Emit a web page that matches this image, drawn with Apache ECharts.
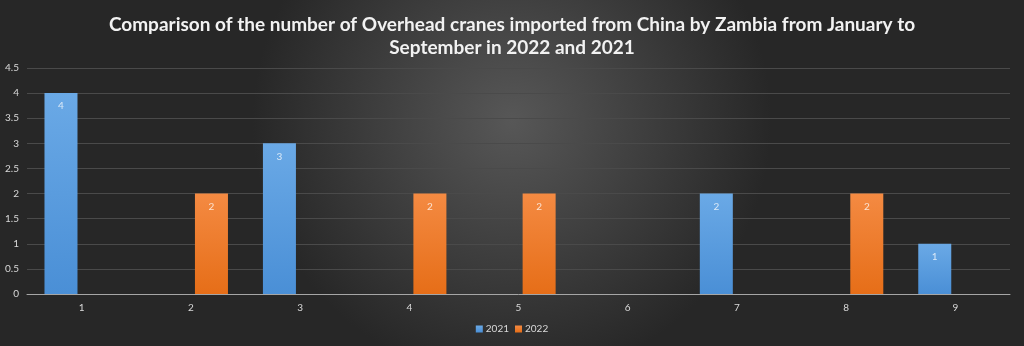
<!DOCTYPE html>
<html><head><meta charset="utf-8">
<script src="https://cdn.jsdelivr.net/npm/echarts@6/dist/echarts.min.js"></script>
<style>html,body{margin:0;padding:0;}#c{width:1024px;height:346px;}</style>
</head><body><div id="c"></div>
<script>
const categories = ['1','2','3','4','5','6','7','8','9'];
const values2021 = [4, null, 3, null, null, null, 2, null, 1];
const values2022 = [null, 2, null, 2, 2, null, null, 2, null];
const yTicks = [0, 0.5, 1, 1.5, 2, 2.5, 3, 3.5, 4, 4.5];

const chart = echarts.init(document.getElementById('c'));
const font = 'Lato, "Open Sans", sans-serif';
chart.setOption({
  backgroundColor: {
    type: 'radial', x: 0.5, y: 0.35, r: 0.75,
    colorStops: [{offset: 0, color: '#575757'}, {offset: 1, color: '#272727'}]
  },
  title: {
    text: 'Comparison of the number of Overhead cranes imported from China by Zambia from January to\nSeptember in 2022 and 2021',
    left: 'center', top: 8,
    textStyle: {color: '#f2f2f2', fontSize: 19, fontWeight: 'bold', fontFamily: font, lineHeight: 23}
  },
  legend: {
    bottom: 7, left: 'center', itemWidth: 7, itemHeight: 7, itemGap: 6,
    icon: 'rect',
    textStyle: {color: '#d9d9d9', fontSize: 10, fontFamily: font, padding: [0, 0, 0, -2]},
    data: ['2021', '2022']
  },
  grid: {left: 27, right: 14, top: 68, bottom: 52, containLabel: false},
  xAxis: {
    type: 'category', data: categories,
    axisLine: {lineStyle: {color: '#a6a6a6', width: 1}},
    axisTick: {show: false},
    axisLabel: {color: '#d9d9d9', fontSize: 10, fontFamily: font, margin: 9}
  },
  yAxis: {
    type: 'value', min: 0, max: 4.5, interval: 0.5,
    axisLine: {show: false}, axisTick: {show: false},
    axisLabel: {color: '#d9d9d9', fontSize: 10, fontFamily: font, margin: 8,
      formatter: v => yTicks.includes(v) ? String(v) : ''},
    splitLine: {lineStyle: {color: '#4a4a4a', width: 1}}
  },
  series: [
    {
      name: '2021', type: 'bar', data: values2021, barWidth: 33, barGap: '25%',
      itemStyle: {color: {type: 'linear', x: 0, y: 0, x2: 0, y2: 1,
        colorStops: [{offset: 0, color: '#6aa9e6'}, {offset: 1, color: '#4a8fd6'}]}},
      label: {show: true, position: 'insideTop', distance: 8, color: '#dbe9f7', fontSize: 10, fontFamily: font}
    },
    {
      name: '2022', type: 'bar', data: values2022, barWidth: 33, barGap: '25%',
      itemStyle: {color: {type: 'linear', x: 0, y: 0, x2: 0, y2: 1,
        colorStops: [{offset: 0, color: '#f48a42'}, {offset: 1, color: '#e66e18'}]}},
      label: {show: true, position: 'insideTop', distance: 8, color: '#fbe3d2', fontSize: 10, fontFamily: font}
    }
  ]
});
</script></body></html>
